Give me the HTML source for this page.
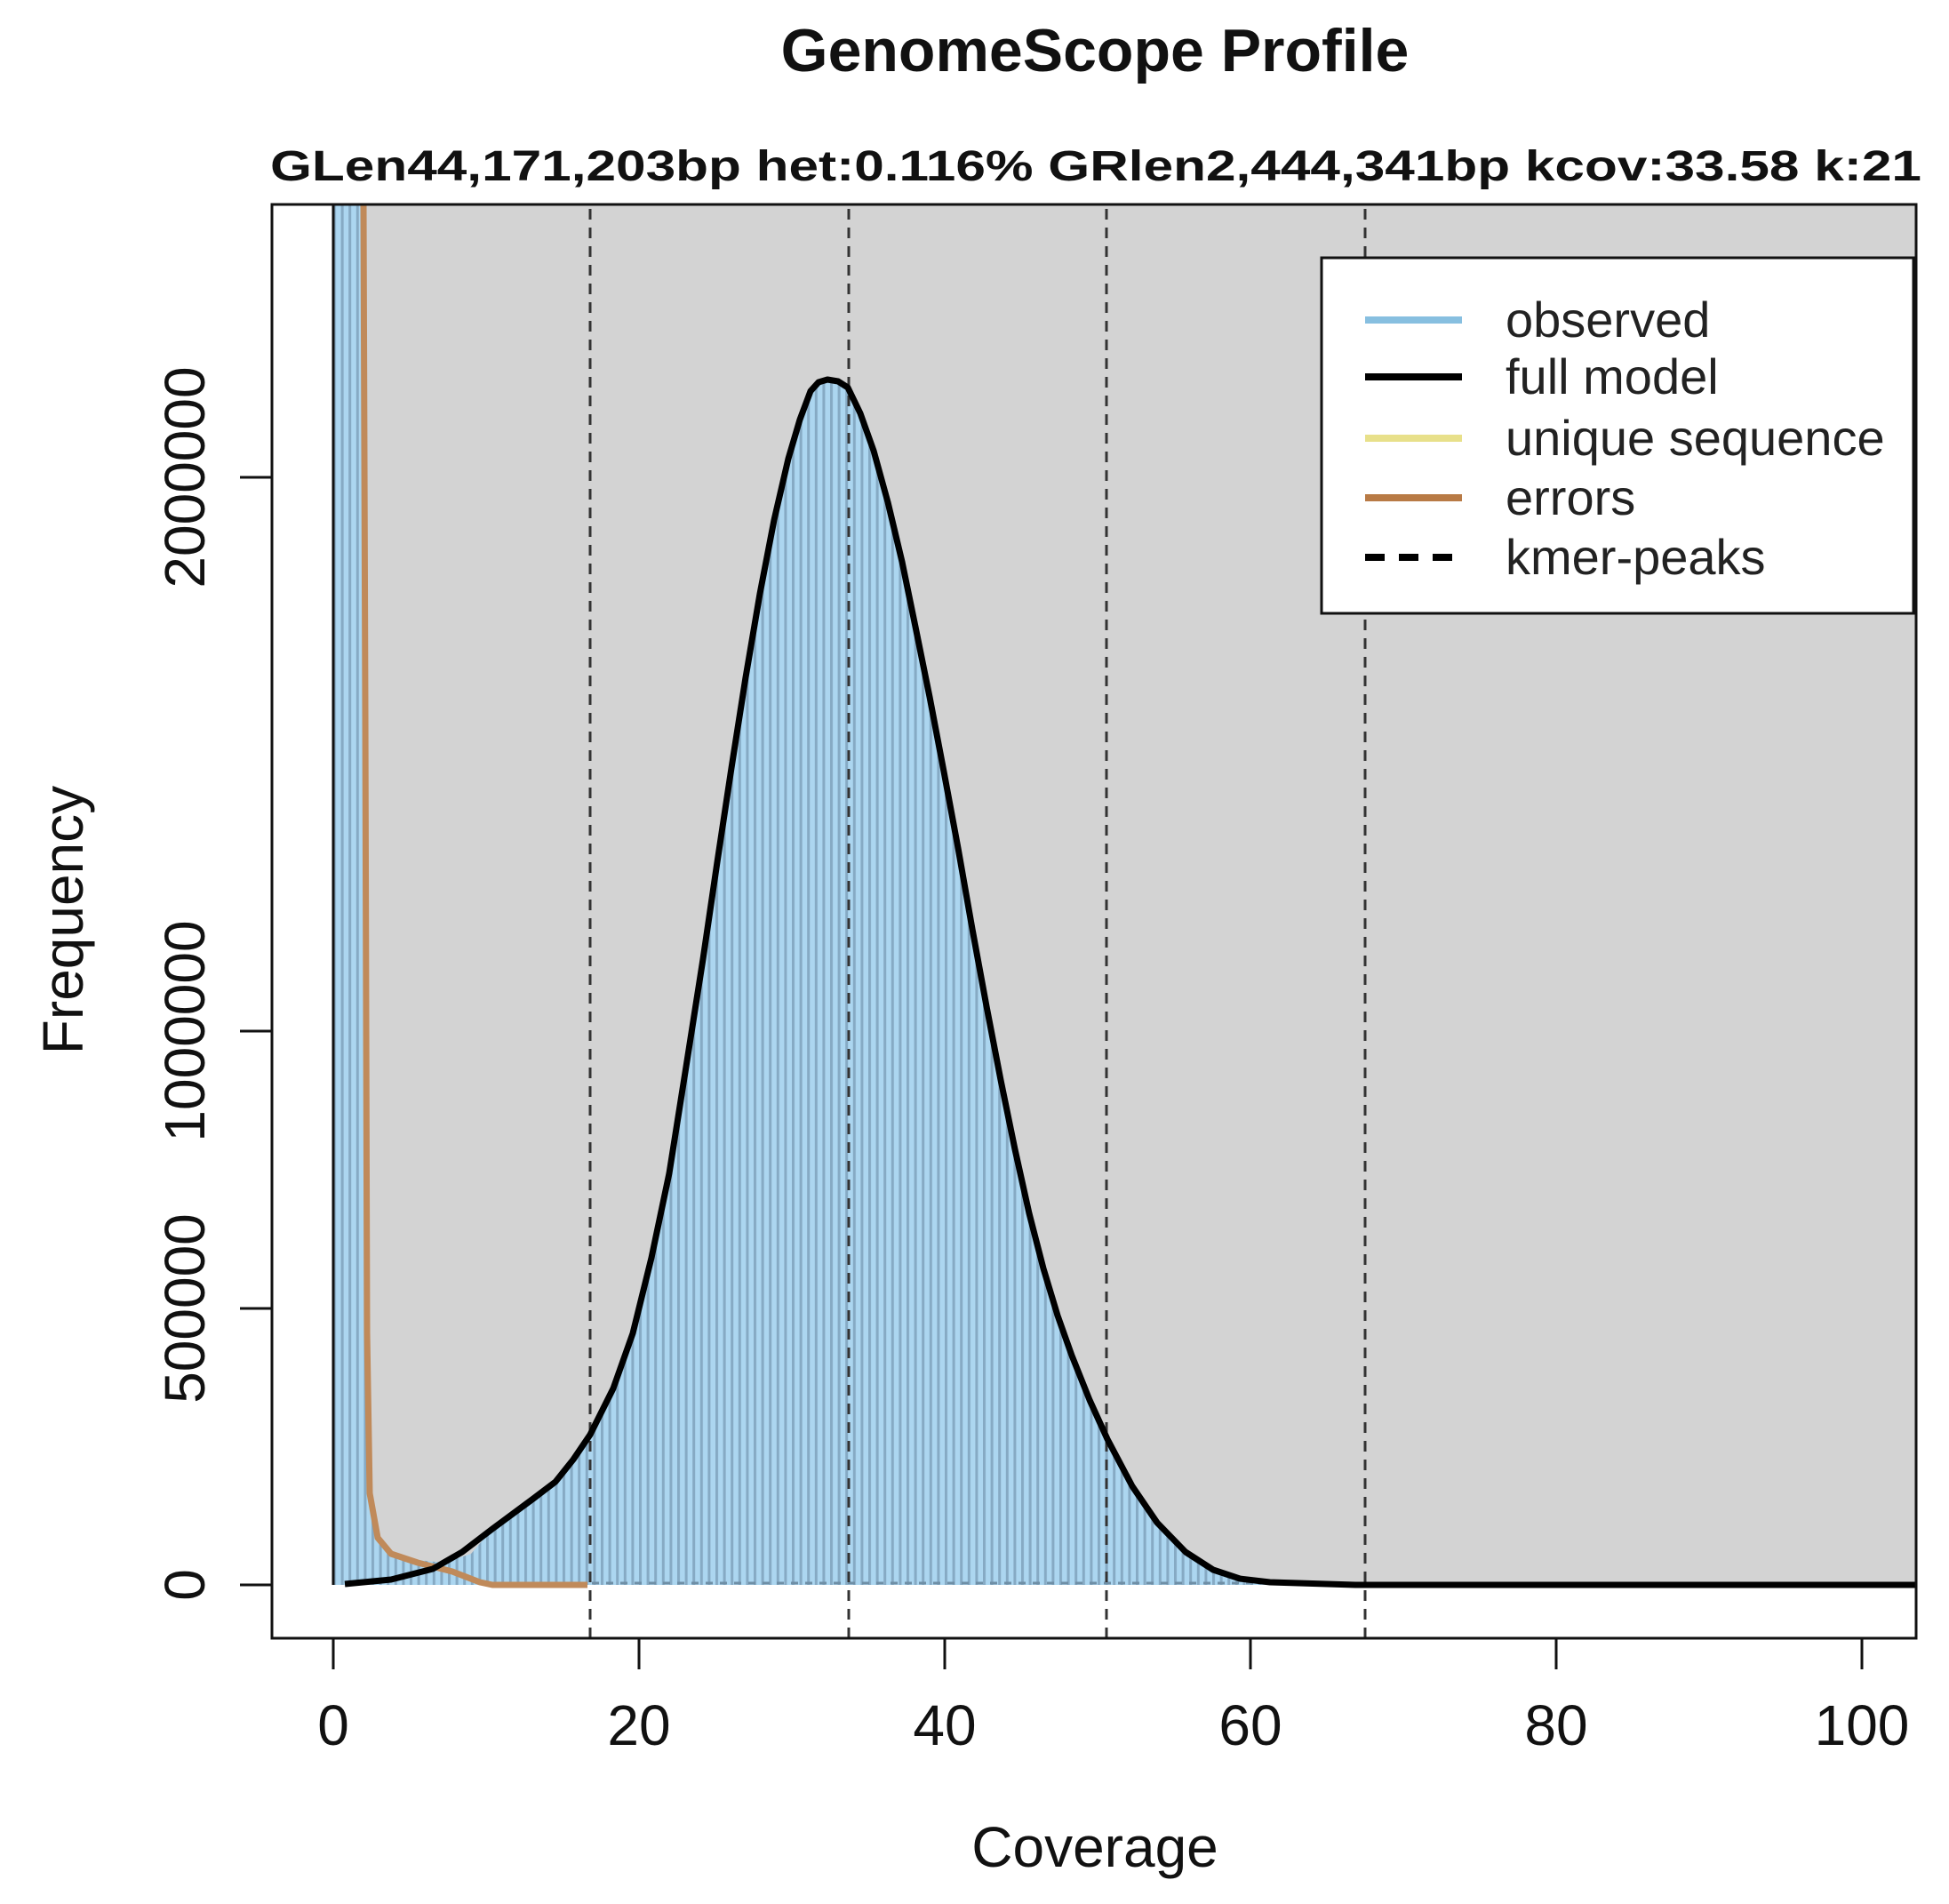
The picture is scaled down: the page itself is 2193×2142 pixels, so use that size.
<!DOCTYPE html>
<html><head><meta charset="utf-8"><style>
html,body{margin:0;padding:0;background:#fff;}
svg{display:block;font-family:"Liberation Sans",sans-serif;}
</style></head><body>
<svg width="2193" height="2142" viewBox="0 0 2193 2142" xmlns="http://www.w3.org/2000/svg">
<defs>
<clipPath id="c"><rect x="306" y="230" width="1850" height="1613"/></clipPath>
<pattern id="bp" patternUnits="userSpaceOnUse" x="375" y="0" width="8.6" height="2142">
<rect x="0" y="0" width="8.6" height="2142" fill="#acd6f0"/>
<rect x="0" y="0" width="3" height="2142" fill="#86aac4"/>
</pattern>
</defs>
<rect x="0" y="0" width="2193" height="2142" fill="#fff"/>
<rect x="375" y="230" width="1781" height="1553" fill="#d3d3d3"/>
<g clip-path="url(#c)">
<path d="M375,1783 L375,230 L412,230 L413,1500 L416,1680 L425,1730 L440,1748 L470,1755 L500,1758 L530,1748 L554,1720 L600,1686 L625,1667 L645,1642 L664,1614 L690,1562 L712,1500 L733,1415 L753,1320 L772,1200 L791,1079 L807,970 L823,864 L839,762 L855,668 L871,585 L887,516 L900,472 L912,440 L921,430 L931,427 L943,429 L954,436 L968,465 L983,507 L999,565 L1015,632 L1030,705 L1046,784 L1062,868 L1078,954 L1094,1045 L1110,1132 L1126,1215 L1142,1293 L1158,1365 L1174,1427 L1190,1480 L1206,1525 L1226,1575 L1246,1619 L1274,1672 L1302,1713 L1334,1746 L1365,1766 L1395,1776 L1429,1780 L1525,1783 Z" fill="url(#bp)"/>
<line x1="375" y1="1783" x2="375" y2="230" stroke="#111" stroke-width="3"/>
<line x1="554" y1="1781" x2="2156" y2="1781" stroke="#6f8fa6" stroke-width="3" stroke-dasharray="8,8"/>
</g>
<g clip-path="url(#c)" stroke="#333" stroke-width="3" stroke-dasharray="12,9">
<line x1="664" y1="235" x2="664" y2="1843"/>
<line x1="955" y1="235" x2="955" y2="1843"/>
<line x1="1245" y1="235" x2="1245" y2="1843"/>
<line x1="1536" y1="235" x2="1536" y2="1843"/>
</g>
<g clip-path="url(#c)" fill="none" stroke-linejoin="round">
<path d="M406,225 L409,230 L411,800 L413,1500 L416,1680 L425,1730 L440,1748 L470,1758 L509,1768 L540,1780 L554,1783 L661,1783" stroke="#c08a5a" stroke-width="7"/>
<path d="M388,1782 L440,1777 L487,1765 L520,1746 L554,1720 L600,1686 L625,1667 L645,1642 L664,1614 L690,1562 L712,1500 L733,1415 L753,1320 L772,1200 L791,1079 L807,970 L823,864 L839,762 L855,668 L871,585 L887,516 L900,472 L912,440 L921,430 L931,427 L943,429 L954,436 L968,465 L983,507 L999,565 L1015,632 L1030,705 L1046,784 L1062,868 L1078,954 L1094,1045 L1110,1132 L1126,1215 L1142,1293 L1158,1365 L1174,1427 L1190,1480 L1206,1525 L1226,1575 L1246,1619 L1274,1672 L1302,1713 L1334,1746 L1365,1766 L1395,1776 L1429,1780 L1525,1783 L2160,1783" stroke="#000" stroke-width="7"/>
</g>
<rect x="306" y="230" width="1850" height="1613" fill="none" stroke="#111" stroke-width="3"/>
<g stroke="#111" stroke-width="3">
<line x1="270" y1="1783" x2="306" y2="1783"/>
<line x1="270" y1="1472" x2="306" y2="1472"/>
<line x1="270" y1="1160" x2="306" y2="1160"/>
<line x1="270" y1="537" x2="306" y2="537"/>
<line x1="375" y1="1843" x2="375" y2="1878"/>
<line x1="719" y1="1843" x2="719" y2="1878"/>
<line x1="1063" y1="1843" x2="1063" y2="1878"/>
<line x1="1407" y1="1843" x2="1407" y2="1878"/>
<line x1="1751" y1="1843" x2="1751" y2="1878"/>
<line x1="2095" y1="1843" x2="2095" y2="1878"/>
</g>
<g font-size="64" fill="#111" text-anchor="middle">
<text x="375" y="1963">0</text>
<text x="719" y="1963">20</text>
<text x="1063" y="1963">40</text>
<text x="1407" y="1963">60</text>
<text x="1751" y="1963">80</text>
<text x="2095" y="1963">100</text>
<text x="1232" y="2100">Coverage</text>
<text transform="translate(230,1783) rotate(-90)">0</text>
<text transform="translate(230,1472) rotate(-90)">500000</text>
<text transform="translate(230,1160) rotate(-90)">1000000</text>
<text transform="translate(230,537) rotate(-90)">2000000</text>
<text transform="translate(93,1035) rotate(-90)">Frequency</text>
</g>
<text x="1232" y="80" font-size="68" font-weight="bold" text-anchor="middle" fill="#111">GenomeScope Profile</text>
<text x="304" y="203" font-size="48" font-weight="bold" fill="#111" textLength="1858" lengthAdjust="spacingAndGlyphs">GLen44,171,203bp het:0.116% GRlen2,444,341bp kcov:33.58 k:21</text>
<rect x="1487" y="290" width="666" height="400" fill="#fff" stroke="#111" stroke-width="3"/>
<g stroke-width="8">
<line x1="1536" y1="360" x2="1645" y2="360" stroke="#87bfe0"/>
<line x1="1536" y1="424" x2="1645" y2="424" stroke="#000"/>
<line x1="1536" y1="493" x2="1645" y2="493" stroke="#e8e08a"/>
<line x1="1536" y1="560" x2="1645" y2="560" stroke="#b87a45"/>
<line x1="1536" y1="627" x2="1645" y2="627" stroke="#000" stroke-dasharray="22,16"/>
</g>
<g font-size="56" fill="#222">
<text x="1694" y="379">observed</text>
<text x="1694" y="443">full model</text>
<text x="1694" y="512">unique sequence</text>
<text x="1694" y="579">errors</text>
<text x="1694" y="646">kmer-peaks</text>
</g>
</svg>
</body></html>
